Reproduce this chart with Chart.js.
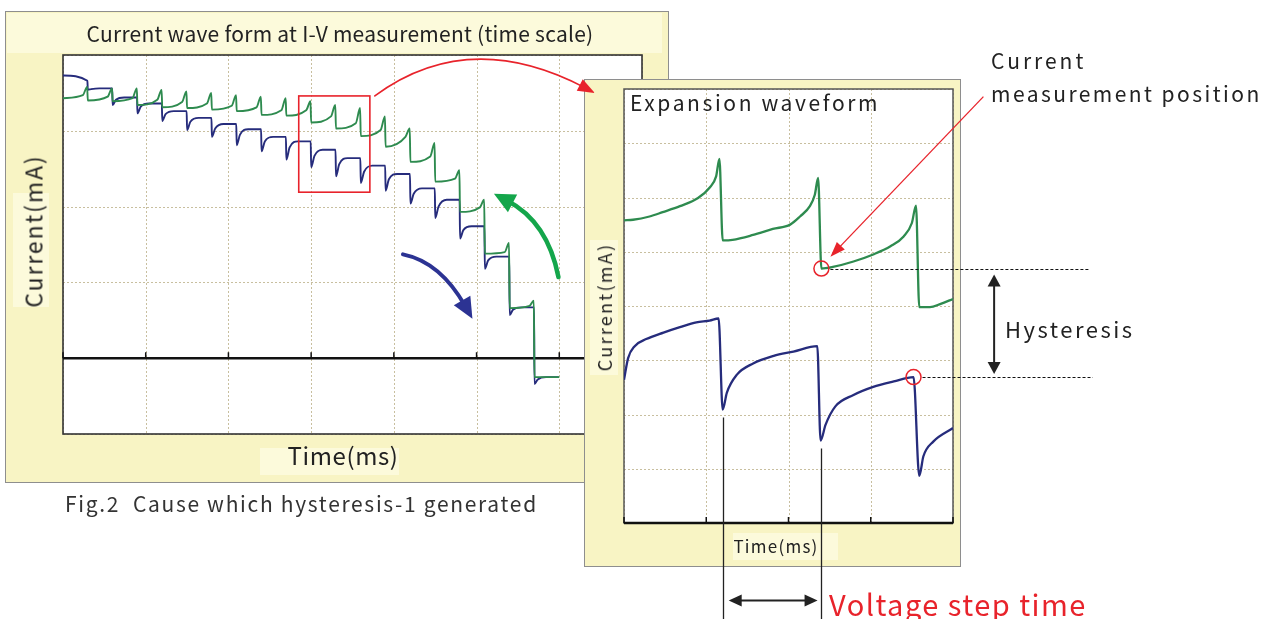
<!DOCTYPE html>
<html lang="en">
<head>
<meta charset="UTF-8">
<title>Current wave form at I-V measurement</title>
<script src="https://cdn.jsdelivr.net/npm/chart.js"></script>
<style>
  html, body { margin: 0; padding: 0; background: #fff; }
  #stage { position: relative; width: 1279px; height: 619px; overflow: hidden; font-family: "Noto Sans CJK JP", "Noto Sans", sans-serif; }
  canvas { position: absolute; left: 0; top: 0; }
  .lbl { position: absolute; left: 0; top: 0; white-space: pre; line-height: 1; color: #222; }
</style>
</head>
<body>
<div id="stage">
  <canvas id="mainChart" width="1279" height="619"></canvas>
  <canvas id="zoomChart" width="1279" height="619"></canvas>
</div>
<script>
// ---- main waveform (time scale), grid units ----
const mainXTicks = [0, 1, 2, 3, 4, 5, 6, 7];
const mainYTicks = [-1, 0, 1, 2, 3, 4];
const stepTimes = [0.3, 0.6, 0.9, 1.2, 1.5, 1.8, 2.1, 2.4, 2.7, 3.0, 3.3, 3.6, 3.9, 4.2, 4.5, 4.8, 5.1, 5.4, 5.7];
const endTime = 6.0;
// green trace: level right after each step, level just before the spike, spike top
const greenStart = [3.43, 3.40, 3.39, 3.34, 3.31, 3.30, 3.28, 3.26, 3.21, 3.20, 3.11, 3.03, 2.93, 2.79, 2.59, 2.33, 1.93, 1.38, 0.66, -0.25];
const greenPre   = [3.47, 3.45, 3.43, 3.41, 3.38, 3.36, 3.33, 3.31, 3.27, 3.27, 3.19, 3.10, 3.01, 2.92, 2.66, 2.37, 1.99, 1.40, 0.69, -0.25];
const greenPeak  = [3.58, 3.56, 3.56, 3.54, 3.52, 3.50, 3.47, 3.45, 3.43, 3.39, 3.34, 3.30, 3.19, 3.03, 2.84, 2.48, 2.09, 1.52, 0.76];
// blue trace: dip after each step, partial recovery, settled level
const blueMin   = [3.73, 3.54, 3.34, 3.23, 3.13, 3.01, 2.92, 2.81, 2.73, 2.62, 2.52, 2.40, 2.31, 2.21, 2.04, 1.85, 1.58, 1.18, 0.57, -0.34];
const blueMid   = [null, 3.55, 3.41, 3.32, 3.22, 3.12, 3.03, 2.95, 2.86, 2.78, 2.67, 2.56, 2.46, 2.36, 2.17, 2.00, 1.69, 1.29, 0.64, -0.28];
const blueLevel = [3.66, 3.56, 3.44, 3.36, 3.26, 3.17, 3.09, 3.02, 2.92, 2.86, 2.75, 2.64, 2.54, 2.43, 2.24, 2.09, 1.74, 1.34, 0.67, -0.25];
// red box around the zoomed part
const zoomBoxT = [2.85, 3.71];
const zoomBoxI = [2.19, 3.46];

// ---- expansion waveform ----
const expXTicks = [0, 1, 2, 3, 4];
const expYTicks = [0, 1, 2, 3, 4, 5, 6, 7, 8];
const expGreenT = [0, 0.11, 0.31, 0.47, 0.68, 0.90, 1.04, 1.12, 1.16, 1.20, 1.32, 1.57, 1.81, 2.02, 2.14, 2.26, 2.32, 2.36, 2.40, 2.54, 2.79, 3.03, 3.24, 3.40, 3.50, 3.55, 3.59, 3.72, 3.85, 4.0];
const expGreenI = [5.58, 5.59, 5.65, 5.73, 5.84, 5.99, 6.18, 6.39, 6.71, 5.21, 5.22, 5.31, 5.42, 5.50, 5.65, 5.84, 6.05, 6.36, 4.69, 4.72, 4.82, 4.95, 5.10, 5.28, 5.53, 5.85, 3.98, 3.98, 4.04, 4.13];
const expBlueT = [0, 0.05, 0.13, 0.27, 0.48, 0.68, 0.88, 1.04, 1.15, 1.20, 1.25, 1.37, 1.57, 1.82, 2.06, 2.35, 2.39, 2.45, 2.57, 2.79, 3.03, 3.28, 3.52, 3.59, 3.64, 3.76, 4.0];
const expBlueI = [2.64, 3.04, 3.26, 3.39, 3.51, 3.61, 3.70, 3.73, 3.77, 2.09, 2.40, 2.73, 2.94, 3.08, 3.16, 3.26, 1.52, 1.81, 2.15, 2.36, 2.51, 2.61, 2.69, 0.87, 1.23, 1.50, 1.75];
const markGreenIdx = 18;   // current measurement position (green)
const markBlueIdx = 22;    // current measurement position (blue)
const stepDropIdx = [9, 16]; // blue drops used for "Voltage step time"

const GREEN = '#2e8b4f', BLUE = '#262c7c', RED = '#e8232b';
const PANEL = '#f8f4c4', BAND = '#fcfadb', GRID = '#c8bf9f';

// build point lists
const mainGreen = [], mainBlue = [];
for (let k = 0; k < greenStart.length; k++) {
    const t = k === 0 ? 0 : stepTimes[k - 1];
    const tn = k < stepTimes.length ? stepTimes[k] : endTime;
    mainGreen.push({x: t, y: greenStart[k]});
    if (k < stepTimes.length) {
        mainGreen.push({x: tn - 0.06, y: greenPre[k]});
        mainGreen.push({x: tn - 0.008, y: greenPeak[k]});
    } else {
        mainGreen.push({x: tn, y: greenPre[k]});
    }
}
mainBlue.push({x: 0, y: blueMin[0]}, {x: stepTimes[0] - 0.005, y: blueLevel[0]});
for (let k = 1; k < blueMin.length; k++) {
    const t = stepTimes[k - 1];
    const tn = k < stepTimes.length ? stepTimes[k] : endTime;
    mainBlue.push({x: t, y: blueMin[k]}, {x: t + 0.04, y: blueMid[k]}, {x: t + 0.14, y: blueLevel[k]}, {x: tn - 0.005, y: blueLevel[k]});
}
const expGreen = expGreenT.map((t, i) => ({x: t, y: expGreenI[i]}));
const expBlue = expBlueT.map((t, i) => ({x: t, y: expBlueI[i]}));

// ---- drawing helpers ----
function drawGrid(chart, xt, yt) {
    const {ctx, chartArea: a, scales: {x, y}} = chart;
    ctx.save();
    ctx.strokeStyle = GRID; ctx.lineWidth = 1; ctx.setLineDash([2, 2]);
    ctx.beginPath();
    xt.forEach(v => { const px = Math.round(x.getPixelForValue(v)) + 0.5; ctx.moveTo(px, a.top); ctx.lineTo(px, a.bottom); });
    yt.forEach(v => { const py = Math.round(y.getPixelForValue(v)) + 0.5; ctx.moveTo(a.left, py); ctx.lineTo(a.right, py); });
    ctx.stroke();
    ctx.restore();
}
function drawAxis(chart, value, xt, w) {
    const {ctx, chartArea: a, scales: {x, y}} = chart;
    const py = y.getPixelForValue(value);
    ctx.save();
    ctx.strokeStyle = '#111'; ctx.lineWidth = w;
    ctx.beginPath(); ctx.moveTo(a.left, py); ctx.lineTo(a.right, py); ctx.stroke();
    ctx.lineWidth = 1.5;
    ctx.beginPath();
    xt.forEach(v => { const px = x.getPixelForValue(v); ctx.moveTo(px, py); ctx.lineTo(px, py - 6); });
    ctx.stroke();
    ctx.restore();
}
function head(ctx, tx, ty, ang, len, wid, col) {
    ctx.save();
    ctx.fillStyle = col; ctx.translate(tx, ty); ctx.rotate(ang);
    ctx.beginPath(); ctx.moveTo(0, 0); ctx.lineTo(-len, wid / 2); ctx.lineTo(-len, -wid / 2); ctx.closePath(); ctx.fill();
    ctx.restore();
}
function curvedArrow(ctx, s, c, t, lw, len, wid, col) {
    const ang = Math.atan2(t[1] - c[1], t[0] - c[0]);
    const ex = t[0] - Math.cos(ang) * len * 0.7, ey = t[1] - Math.sin(ang) * len * 0.7;
    ctx.save();
    ctx.strokeStyle = col; ctx.lineWidth = lw; ctx.lineCap = 'round';
    ctx.beginPath(); ctx.moveTo(s[0], s[1]); ctx.quadraticCurveTo(c[0], c[1], ex, ey); ctx.stroke();
    ctx.restore();
    head(ctx, t[0], t[1], ang, len, wid, col);
}
function pt(chart, v) { return [chart.scales.x.getPixelForValue(v[0]), chart.scales.y.getPixelForValue(v[1])]; }

const mainDecor = {
    id: 'mainDecor',
    beforeDraw(chart) {
        const {ctx, chartArea: a} = chart;
        ctx.save();
        ctx.fillStyle = PANEL; ctx.fillRect(5.5, 11.5, 663, 471);
        ctx.strokeStyle = '#8e8e8e'; ctx.lineWidth = 1; ctx.strokeRect(5.5, 11.5, 663, 471);
        ctx.fillStyle = BAND;
        ctx.fillRect(7, 13, 655, 40);
        ctx.fillRect(260, 448, 139, 27);
        ctx.fillRect(13, 193, 36, 114);
        ctx.fillStyle = '#fff'; ctx.fillRect(a.left, a.top, a.width, a.height);
        ctx.restore();
        drawGrid(chart, mainXTicks, mainYTicks);
    },
    beforeDatasetsDraw(chart) {
        const {ctx, chartArea: a} = chart;
        ctx.save();
        ctx.strokeStyle = '#333'; ctx.lineWidth = 1.6;
        ctx.strokeRect(a.left, a.top, a.width, a.height);
        ctx.restore();
        drawAxis(chart, 0, mainXTicks, 2.4);
    },
    afterDatasetsDraw(chart) {
        const {ctx} = chart;
        const p0 = pt(chart, [zoomBoxT[0], zoomBoxI[1]]), p1 = pt(chart, [zoomBoxT[1], zoomBoxI[0]]);
        ctx.save();
        ctx.strokeStyle = RED; ctx.lineWidth = 1.6;
        ctx.strokeRect(p0[0], p0[1], p1[0] - p0[0], p1[1] - p0[1]);
        ctx.restore();
        // rising (green) and falling (blue) sweep arrows
        curvedArrow(ctx, pt(chart, [5.99, 1.07]), pt(chart, [5.86, 1.80]), pt(chart, [5.21, 2.17]), 4.5, 21, 20, '#14a64b');
        curvedArrow(ctx, pt(chart, [4.11, 1.37]), pt(chart, [4.56, 1.27]), pt(chart, [4.95, 0.52]), 4, 21, 19, '#2c3393');
    }
};

const mainChart = new Chart(document.getElementById('mainChart'), {
    type: 'line',
    data: {
        datasets: [
            {label: 'green', data: mainGreen, borderColor: GREEN, borderWidth: 1.9, pointRadius: 0, cubicInterpolationMode: 'monotone', order: 0},
            {label: 'blue', data: mainBlue, borderColor: BLUE, borderWidth: 1.9, pointRadius: 0, cubicInterpolationMode: 'monotone', order: 1}
        ]
    },
    options: {
        responsive: false, animation: false, devicePixelRatio: 1, events: [],
        layout: {padding: {left: 63, top: 55, right: 637, bottom: 185}},
        scales: {
            x: {type: 'linear', min: 0, max: 7, display: false},
            y: {type: 'linear', min: -1, max: 4, display: false}
        },
        plugins: {legend: {display: false}, tooltip: {enabled: false}}
    },
    plugins: [mainDecor]
});

const expDecor = {
    id: 'expDecor',
    beforeDraw(chart) {
        const {ctx, chartArea: a} = chart;
        ctx.save();
        ctx.fillStyle = PANEL; ctx.fillRect(584.5, 79.5, 376, 487);
        ctx.strokeStyle = '#8e8e8e'; ctx.lineWidth = 1; ctx.strokeRect(584.5, 79.5, 376, 487);
        ctx.fillStyle = BAND; ctx.fillRect(733, 533, 105, 27);
        ctx.fillRect(590, 240, 28, 135);
        ctx.fillStyle = '#fff'; ctx.fillRect(a.left, a.top, a.width, a.height);
        ctx.restore();
        drawGrid(chart, expXTicks, expYTicks);
    },
    beforeDatasetsDraw(chart) {
        const {ctx, chartArea: a} = chart;
        ctx.save();
        ctx.strokeStyle = '#555'; ctx.lineWidth = 1.5;
        ctx.strokeRect(a.left, a.top, a.width, a.height);
        ctx.restore();
        drawAxis(chart, 0, expXTicks, 2.6);
    },
    afterDraw(chart) {
        const {ctx} = chart;
        const {x, y} = chart.scales;
        const g = [x.getPixelForValue(expGreenT[markGreenIdx]), y.getPixelForValue(expGreenI[markGreenIdx])];
        const b = [x.getPixelForValue(expBlueT[markBlueIdx]), y.getPixelForValue(expBlueI[markBlueIdx])];
        ctx.save();
        // measurement circles
        ctx.strokeStyle = RED; ctx.lineWidth = 1.5;
        [g, b].forEach(p => { ctx.beginPath(); ctx.arc(p[0], p[1], 7.5, 0, Math.PI * 2); ctx.stroke(); });
        // dotted level lines
        ctx.strokeStyle = '#111'; ctx.lineWidth = 1; ctx.setLineDash([3, 2]);
        ctx.beginPath();
        ctx.moveTo(g[0] + 9, Math.round(g[1]) + 0.5); ctx.lineTo(x.getPixelForValue(5.65), Math.round(g[1]) + 0.5);
        ctx.moveTo(b[0] + 9, Math.round(b[1]) + 0.5); ctx.lineTo(x.getPixelForValue(5.70), Math.round(b[1]) + 0.5);
        ctx.stroke();
        ctx.setLineDash([]);
        // hysteresis arrow
        const hx = x.getPixelForValue(4.50);
        ctx.lineWidth = 2; ctx.strokeStyle = '#222';
        ctx.beginPath(); ctx.moveTo(hx, g[1] + 14); ctx.lineTo(hx, b[1] - 12); ctx.stroke();
        head(ctx, hx, g[1] + 6, -Math.PI / 2, 12, 13, '#222');
        head(ctx, hx, b[1] - 3, Math.PI / 2, 12, 13, '#222');
        // voltage step lines
        const sx = stepDropIdx.map(i => x.getPixelForValue(expBlueT[i]));
        const sy = stepDropIdx.map(i => y.getPixelForValue(expBlueI[i]));
        ctx.lineWidth = 1.3; ctx.strokeStyle = '#222';
        ctx.beginPath();
        sx.forEach((px, i) => { ctx.moveTo(Math.round(px) + 0.5, sy[i] + 8); ctx.lineTo(Math.round(px) + 0.5, 619); });
        ctx.stroke();
        const ay = y.getPixelForValue(-1.43);
        ctx.lineWidth = 2;
        ctx.beginPath(); ctx.moveTo(sx[0] + 14, ay); ctx.lineTo(sx[1] - 12, ay); ctx.stroke();
        head(ctx, sx[0] + 6, ay, Math.PI, 13, 12, '#222');
        head(ctx, sx[1] - 3, ay, 0, 13, 12, '#222');
        ctx.restore();
        // pointer to the measurement position
        const pS = pt(chart, [4.37, 7.86]), pT = pt(chart, [2.51, 4.91]);
        const ang = Math.atan2(pT[1] - pS[1], pT[0] - pS[0]);
        ctx.save();
        ctx.strokeStyle = RED; ctx.lineWidth = 1.3;
        ctx.beginPath(); ctx.moveTo(pS[0], pS[1]); ctx.lineTo(pT[0] - Math.cos(ang) * 10, pT[1] - Math.sin(ang) * 10); ctx.stroke();
        ctx.restore();
        head(ctx, pT[0], pT[1], ang, 15, 11, RED);
        // arc from the red box to the expansion panel
        curvedArrow(ctx, pt(mainChart, [3.77, 3.46]), pt(mainChart, [4.90, 4.37]), pt(mainChart, [6.43, 3.50]), 1.6, 17, 13, RED);
    }
};

new Chart(document.getElementById('zoomChart'), {
    type: 'line',
    data: {
        datasets: [
            {label: 'green', data: expGreen, borderColor: GREEN, borderWidth: 2.3, pointRadius: 0, cubicInterpolationMode: 'monotone'},
            {label: 'blue', data: expBlue, borderColor: BLUE, borderWidth: 2.3, pointRadius: 0, cubicInterpolationMode: 'monotone'}
        ]
    },
    options: {
        responsive: false, animation: false, devicePixelRatio: 1, events: [],
        layout: {padding: {left: 624, top: 89, right: 326, bottom: 96}},
        scales: {
            x: {type: 'linear', min: 0, max: 4, display: false},
            y: {type: 'linear', min: 0, max: 8, display: false}
        },
        plugins: {legend: {display: false}, tooltip: {enabled: false}}
    },
    plugins: [expDecor]
});

// ---- text labels ----
const labels = [
    {t: 'Current wave form at I-V measurement (time scale)', x: 340, y: 33, w: 507, s: 21},
    {t: 'Current(mA)', x: 33, y: 231, w: 153, s: 23, r: true},
    {t: 'Time(ms)', x: 343, y: 455, w: 111, s: 24},
    {t: 'Fig.2  Cause which hysteresis-1 generated', x: 65, y: 503, w: 473, s: 21, l: true, c: '#333'},
    {t: 'Expansion waveform', x: 630, y: 102, w: 250, s: 21, l: true},
    {t: 'Current(mA)', x: 604, y: 307, w: 129, s: 18, r: true},
    {t: 'Time(ms)', x: 776, y: 545, w: 85, s: 17},
    {t: 'Current', x: 991, y: 60, w: 95, s: 21, l: true},
    {t: 'measurement position', x: 991, y: 93, w: 271, s: 21, l: true},
    {t: 'Hysteresis', x: 1005, y: 328, w: 130, s: 22, l: true},
    {t: 'Voltage step time', x: 829, y: 603, w: 258, s: 29, l: true, c: RED}
];
const stage = document.getElementById('stage');
labels.forEach(l => {
    const el = document.createElement('div');
    el.className = 'lbl';
    el.textContent = l.t;
    el.style.fontSize = l.s + 'px';
    if (l.c) el.style.color = l.c;
    stage.appendChild(el);
    el.style.letterSpacing = ((l.w - el.offsetWidth) / l.t.length) + 'px';
    el.style.left = l.x + 'px';
    el.style.top = l.y + 'px';
    el.style.transform = (l.l ? 'translate(0,-50%)' : 'translate(-50%,-50%)') + (l.r ? ' rotate(-90deg)' : '');
});
</script>
</body>
</html>
